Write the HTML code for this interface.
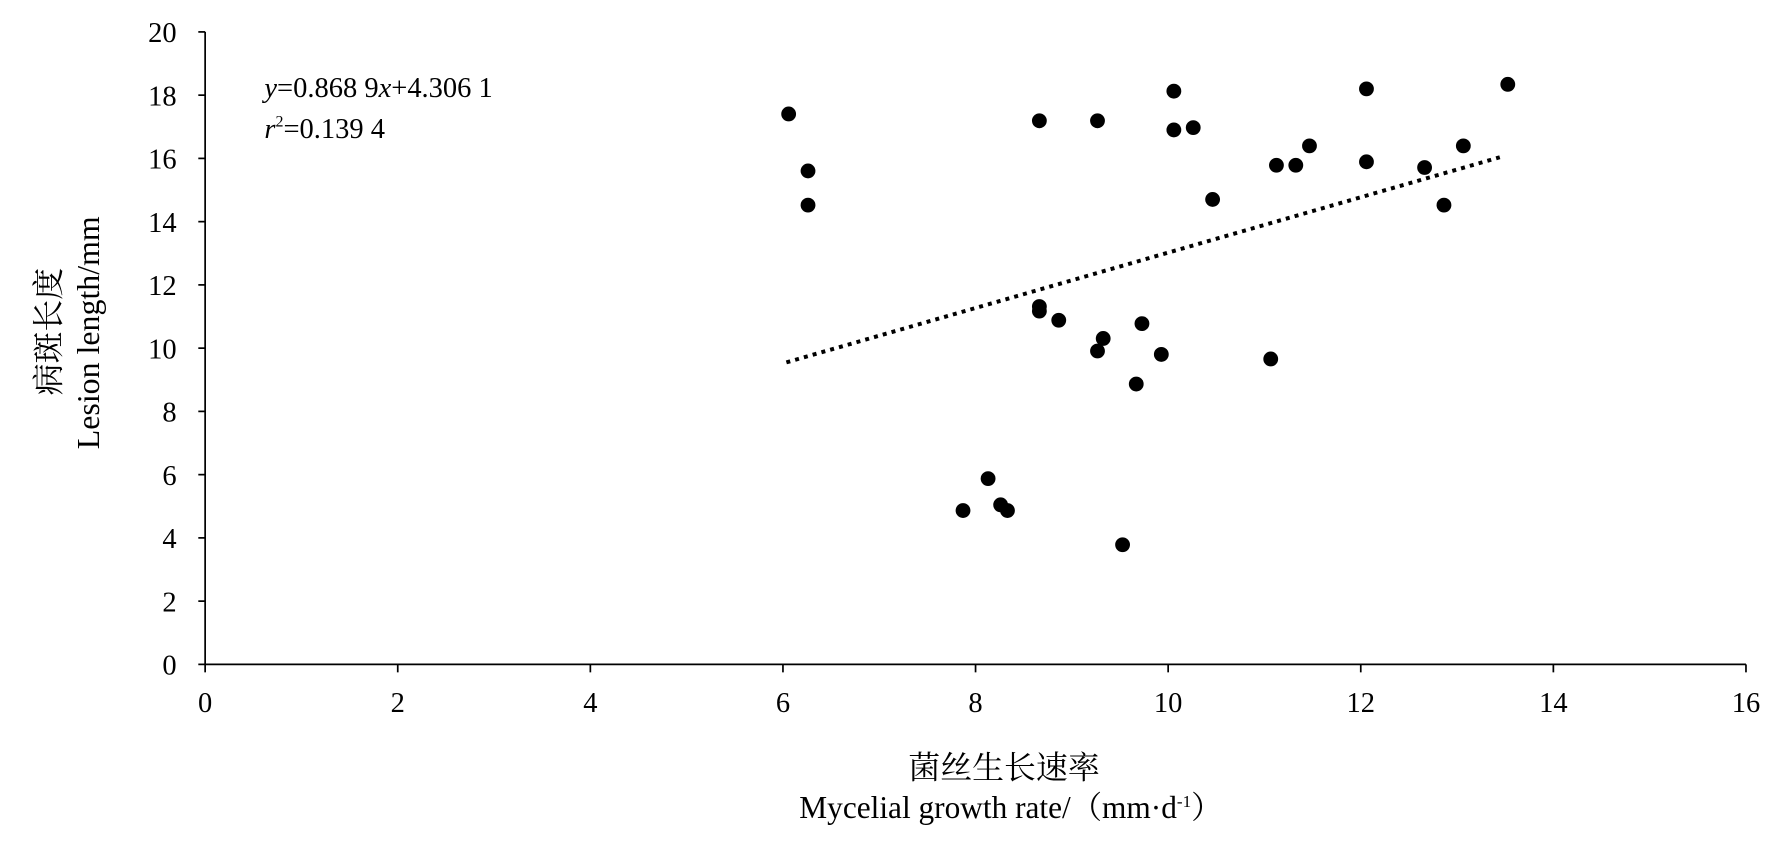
<!DOCTYPE html>
<html><head><meta charset="utf-8"><style>html,body{margin:0;padding:0;background:#fff}svg{display:block}</style></head><body>
<svg width="1787" height="845" viewBox="0 0 1568 741.5" preserveAspectRatio="none" xmlns="http://www.w3.org/2000/svg" font-family="'Liberation Serif','Noto Serif CJK SC',serif" font-size="25" fill="#000">
<g stroke="#000" stroke-width="1.5">
<line x1="180" y1="28" x2="180" y2="583"/>
<line x1="180" y1="583" x2="1532" y2="583"/>
<line x1="174" y1="583" x2="180" y2="583"/><line x1="174" y1="527.5" x2="180" y2="527.5"/><line x1="174" y1="472" x2="180" y2="472"/><line x1="174" y1="416.5" x2="180" y2="416.5"/><line x1="174" y1="361" x2="180" y2="361"/><line x1="174" y1="305.5" x2="180" y2="305.5"/><line x1="174" y1="250" x2="180" y2="250"/><line x1="174" y1="194.5" x2="180" y2="194.5"/><line x1="174" y1="139" x2="180" y2="139"/><line x1="174" y1="83.5" x2="180" y2="83.5"/><line x1="174" y1="28" x2="180" y2="28"/>
<line x1="180" y1="583" x2="180" y2="590"/><line x1="349" y1="583" x2="349" y2="590"/><line x1="518" y1="583" x2="518" y2="590"/><line x1="687" y1="583" x2="687" y2="590"/><line x1="856" y1="583" x2="856" y2="590"/><line x1="1025" y1="583" x2="1025" y2="590"/><line x1="1194" y1="583" x2="1194" y2="590"/><line x1="1363" y1="583" x2="1363" y2="590"/><line x1="1532" y1="583" x2="1532" y2="590"/>
</g>
<g text-anchor="end">
<text x="155" y="592">0</text><text x="155" y="536.5">2</text><text x="155" y="481">4</text><text x="155" y="425.5">6</text><text x="155" y="370">8</text><text x="155" y="314.5">10</text><text x="155" y="259">12</text><text x="155" y="203.5">14</text><text x="155" y="148">16</text><text x="155" y="92.5">18</text><text x="155" y="37">20</text>
</g>
<g text-anchor="middle">
<text x="180" y="625">0</text><text x="349" y="625">2</text><text x="518" y="625">4</text><text x="687" y="625">6</text><text x="856" y="625">8</text><text x="1025" y="625">10</text><text x="1194" y="625">12</text><text x="1363" y="625">14</text><text x="1532" y="625">16</text>
<text x="881" y="683" font-size="28">菌丝生长速率</text>
<text x="887" y="718" font-size="27.5">Mycelial growth rate/（mm·d<tspan font-size="15" dy="-10">-1</tspan><tspan dy="10">）</tspan></text>
<text transform="translate(52,291) rotate(-90)" font-size="28">病斑长度</text>
<text transform="translate(87,292) rotate(-90)" font-size="28">Lesion length/mm</text>
</g>
<text x="232" y="85"><tspan font-style="italic">y</tspan>=0.868 9<tspan font-style="italic">x</tspan>+4.306 1</text>
<text x="232" y="121"><tspan font-style="italic">r</tspan><tspan font-size="14" dy="-10">2</tspan><tspan dy="10">=0.139 4</tspan></text>
<line x1="690" y1="318" x2="1316" y2="138" stroke="#000" stroke-width="3.5" stroke-dasharray="3.5 4.5"/>
<g>
<circle cx="692" cy="100" r="6.5"/><circle cx="709" cy="150" r="6.5"/><circle cx="709" cy="180" r="6.5"/><circle cx="912" cy="106" r="6.5"/><circle cx="963" cy="106" r="6.5"/><circle cx="1030" cy="80" r="6.5"/><circle cx="1030" cy="114" r="6.5"/><circle cx="1047" cy="112" r="6.5"/><circle cx="1064" cy="175" r="6.5"/><circle cx="1120" cy="145" r="6.5"/><circle cx="1137" cy="145" r="6.5"/><circle cx="1149" cy="128" r="6.5"/><circle cx="1199" cy="78" r="6.5"/><circle cx="1199" cy="142" r="6.5"/><circle cx="1250" cy="147" r="6.5"/><circle cx="1284" cy="128" r="6.5"/><circle cx="1267" cy="180" r="6.5"/><circle cx="1323" cy="74" r="6.5"/><circle cx="912" cy="269" r="6.5"/><circle cx="912" cy="273" r="6.5"/><circle cx="929" cy="281" r="6.5"/><circle cx="963" cy="308" r="6.5"/><circle cx="968" cy="297" r="6.5"/><circle cx="1002" cy="284" r="6.5"/><circle cx="1019" cy="311" r="6.5"/><circle cx="997" cy="337" r="6.5"/><circle cx="1115" cy="315" r="6.5"/><circle cx="867" cy="420" r="6.5"/><circle cx="845" cy="448" r="6.5"/><circle cx="878" cy="443" r="6.5"/><circle cx="884" cy="448" r="6.5"/><circle cx="985" cy="478" r="6.5"/>
</g>
</svg>
</body></html>
